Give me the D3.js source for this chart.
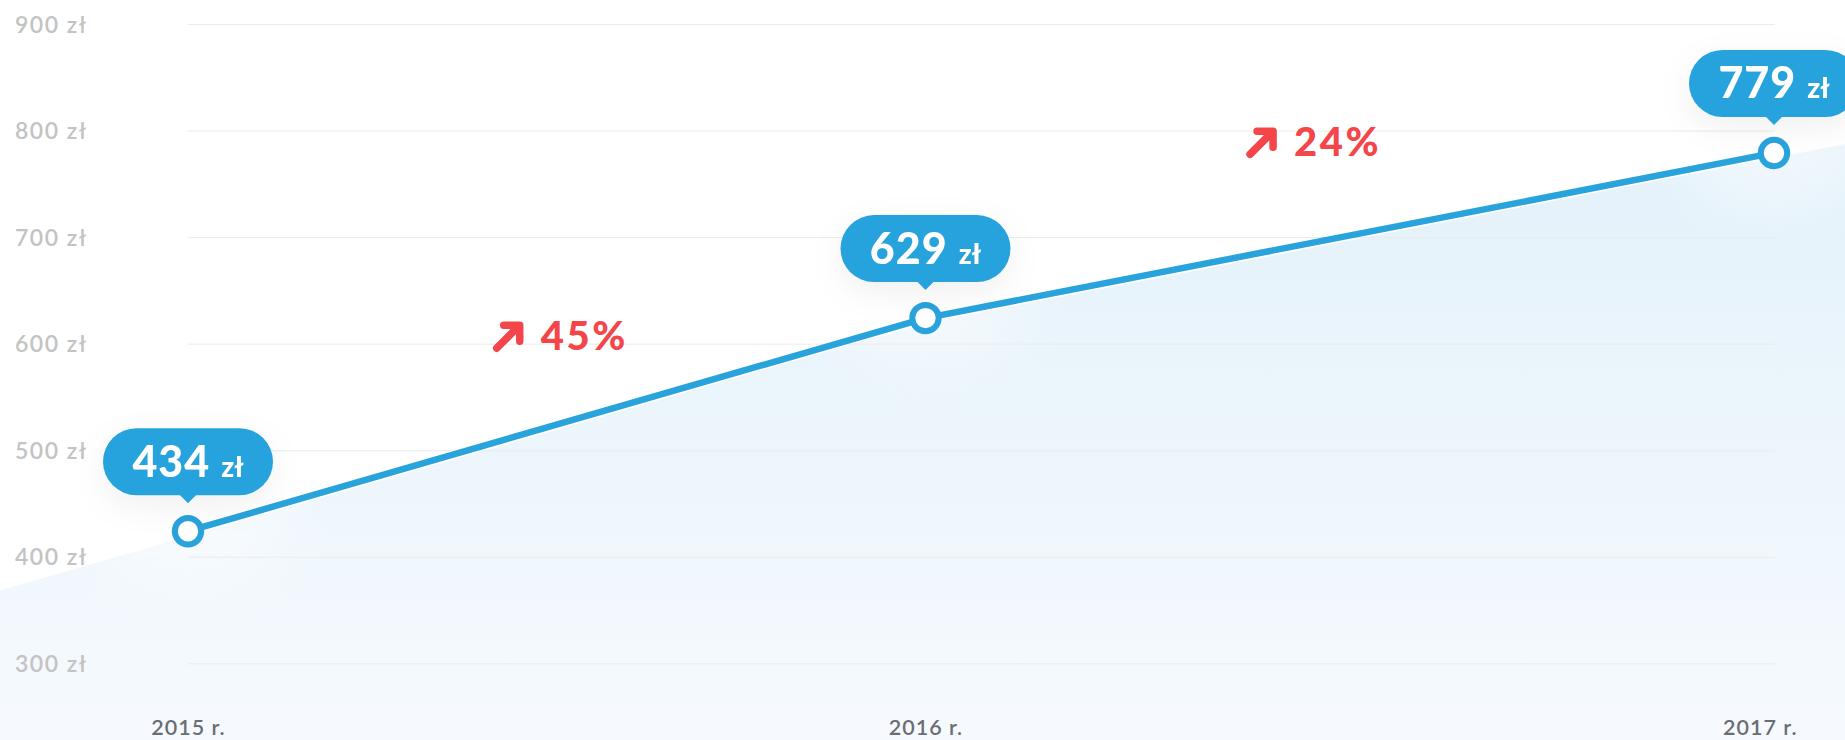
<!DOCTYPE html>
<html>
<head>
<meta charset="utf-8">
<script src="https://cdn.jsdelivr.net/npm/d3@7"></script>
<style>
  html, body { margin: 0; padding: 0; background: #fff; }
  svg { display: block; font-family: Lato, "Noto Sans", sans-serif; }
</style>
</head>
<body>
<svg></svg>
<script>
// data
const years = ["2015 r.", "2016 r.", "2017 r."];
const when = [2015, 2015.93, 2017];      // horizontal place of each point
const plotted = [424, 624, 779];         // where the points sit on the y axis
const amounts = [434, 629, 779];         // what the bubbles say
const yTicks = [300, 400, 500, 600, 700, 800, 900];
const growthAt = [[2015.47, 607], [2016.42, 789]];

const width = 1845;
const height = 740;
const blue = "#28a3dc";
const red = "#f4464a";

const svg = d3.select("svg").attr("width", width).attr("height", height);

const x = d3.scaleLinear().domain([2015, 2017]).range([188, 1774]);
const y = d3.scaleLinear().domain([300, 900]).range([663.3, 24]);

const defs = svg.append("defs");

const grad = defs.append("linearGradient")
  .attr("id", "fill")
  .attr("gradientUnits", "userSpaceOnUse")
  .attr("x1", 0).attr("y1", 140).attr("x2", 0).attr("y2", height);
grad.append("stop").attr("offset", 0).attr("stop-color", "#e3f1fa");
grad.append("stop").attr("offset", 1).attr("stop-color", "#f6fafe");

defs.append("filter").attr("id", "glow")
  .attr("x", "-100%").attr("y", "-100%").attr("width", "300%").attr("height", "300%")
  .append("feGaussianBlur").attr("stdDeviation", 28);

const shadow = defs.append("filter").attr("id", "shadow")
  .attr("x", "-50%").attr("y", "-50%").attr("width", "200%").attr("height", "200%");
shadow.append("feDropShadow")
  .attr("dx", 0).attr("dy", 10).attr("stdDeviation", 16)
  .attr("flood-color", "#000").attr("flood-opacity", 0.06);

// area under the line, carried out to both edges
const pts = when.map((w, i) => ({ w, v: plotted[i] }));
function extend(a, b, xv) {
  const t = (xv - a.w) / (b.w - a.w);
  return { w: xv, v: a.v + (b.v - a.v) * t };
}
const n = pts.length;
const areaPts = [extend(pts[0], pts[1], x.invert(0)), ...pts, extend(pts[n - 2], pts[n - 1], x.invert(width))];

svg.append("path")
  .attr("d", d3.area().x(d => x(d.w)).y0(height).y1(d => y(d.v) + 5)(areaPts))
  .attr("fill", "url(#fill)");

// soft glow behind each point
svg.append("g").selectAll("ellipse")
  .data(pts)
  .join("ellipse")
  .attr("cx", d => x(d.w))
  .attr("cy", d => y(d.v) - 20)
  .attr("rx", 100).attr("ry", 70)
  .attr("fill", "#fff")
  .attr("opacity", 0.45)
  .attr("filter", "url(#glow)");

// y axis with gridlines
const yAxis = svg.append("g")
  .attr("transform", `translate(${x(2015)},0)`)
  .call(d3.axisLeft(y).tickValues(yTicks).tickSize(-(x(2017) - x(2015) + 1)).tickFormat(d => d + " zł"));
yAxis.select(".domain").remove();
yAxis.selectAll("line").attr("stroke", "#ebebeb").attr("stroke-width", 1);
yAxis.selectAll("text")
  .attr("x", 15 - x(2015))
  .attr("dy", "0.35em")
  .attr("text-anchor", "start")
  .attr("fill", "#c3c3c3")
  .style("font-size", "23px")
  .style("font-weight", 600)
  .style("letter-spacing", "1.5px")
  .style("font-family", "Lato, sans-serif");

// x axis labels
const xAxis = svg.append("g")
  .attr("transform", `translate(0,${height})`)
  .call(d3.axisBottom(x).tickValues(when).tickSize(0).tickFormat((d, i) => years[i]));
xAxis.select(".domain").remove();
xAxis.selectAll("text")
  .attr("y", -5)
  .attr("dy", 0)
  .attr("fill", "#6a6e73")
  .style("font-size", "21.5px")
  .style("font-weight", 600)
  .style("letter-spacing", "1px")
  .style("font-family", "Lato, sans-serif");
xAxis.selectAll(".tick").each(function(d) {
  const t = d3.select(this).select("text");
  const w = t.node().getComputedTextLength();
  const over = x(d) + w / 2 - (width - 48);
  if (over > 0) t.attr("x", -over);
});

// line
svg.append("path")
  .attr("d", d3.line().x(d => x(d.w)).y(d => y(d.v))(pts))
  .attr("fill", "none")
  .attr("stroke", blue)
  .attr("stroke-width", 6.5)
  .attr("stroke-linejoin", "round");

// growth labels
const fmt = d3.format(".0%");
const growth = svg.append("g").selectAll("g")
  .data(growthAt)
  .join("g")
  .attr("transform", d => `translate(${x(d[0])},${y(d[1])})`);
growth.each(function(d, i) {
  const g = d3.select(this);
  const txt = g.append("text")
    .attr("fill", red)
    .style("font-size", "40px")
    .style("font-weight", 900)
    .style("letter-spacing", "2.5px")
    .text(fmt(amounts[i + 1] / amounts[i] - 1));
  const tw = txt.node().getComputedTextLength();
  const total = 28 + 19 + tw;
  const left = -total / 2;
  g.append("path")
    .attr("d", `M${left + 3},12 L${left + 25},-10 M${left + 10},-11 H${left + 26} V5`)
    .attr("fill", "none")
    .attr("stroke", red)
    .attr("stroke-width", 7.5)
    .attr("stroke-linecap", "round")
    .attr("stroke-linejoin", "round");
  txt.attr("x", left + 47).attr("y", 14);
});

// points
svg.append("g").selectAll("circle")
  .data(pts)
  .join("circle")
  .attr("cx", d => x(d.w))
  .attr("cy", d => y(d.v))
  .attr("r", 13.2)
  .attr("fill", "#fff")
  .attr("stroke", blue)
  .attr("stroke-width", 6);

// bubbles
const bw = 170, bh = 67;
const bubbles = svg.append("g").selectAll("g")
  .data(pts)
  .join("g")
  .attr("transform", d => `translate(${x(d.w)},${y(d.v) - 36})`)
  .attr("filter", "url(#shadow)");
bubbles.append("rect")
  .attr("x", -bw / 2).attr("y", -bh)
  .attr("width", bw).attr("height", bh)
  .attr("rx", bh / 2)
  .attr("fill", blue);
bubbles.append("path")
  .attr("d", "M-9,-1 L0,8 L9,-1 Z")
  .attr("fill", blue);
const label = bubbles.append("text")
  .attr("y", -bh / 2 + 15)
  .attr("text-anchor", "middle")
  .attr("fill", "#fff");
label.append("tspan")
  .style("font-size", "43px")
  .style("font-weight", 900)
  .style("letter-spacing", "1px")
  .text((d, i) => amounts[i]);
label.append("tspan")
  .attr("dx", 11)
  .style("font-size", "28px")
  .style("font-weight", 900)
  .text("zł");
</script>
</body>
</html>
